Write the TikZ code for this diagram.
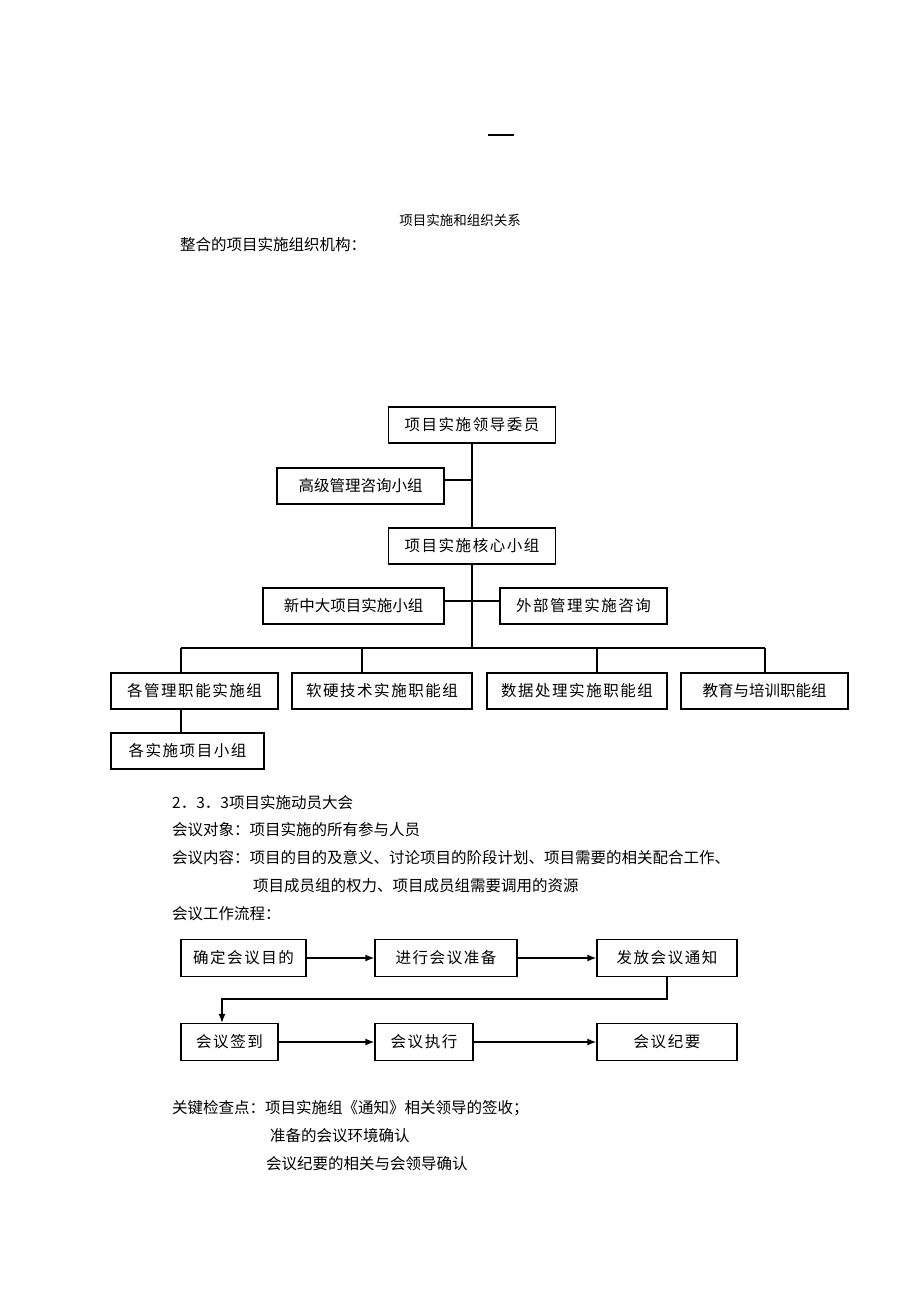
\documentclass[tikz,border=0pt]{standalone}
\usepackage{fontspec}
\newfontfamily\cjk{Noto Sans CJK SC}
\newfontfamily\cjkwide[LetterSpace=10]{Noto Sans CJK SC}
\usetikzlibrary{arrows.meta}
\tikzstyle{line} = [draw, line width=1.4pt, -{Latex[length=9pt,width=7pt]}]
\tikzstyle{link} = [draw, line width=1.4pt]
\tikzstyle{org_box} = [rectangle, draw, line width=1.3pt, minimum height=36pt, inner sep=0pt, text centered, font=\cjk\fontsize{15.5}{16}\selectfont]
\tikzstyle{org_wide} = [org_box, font=\cjkwide\fontsize{15.5}{16}\selectfont]
\tikzstyle{flow_box} = [org_box, minimum height=37pt, font=\cjkwide\fontsize{15.5}{16}\selectfont]
\tikzstyle{txt} = [anchor=west, inner sep=0pt, font=\cjk\fontsize{15.5}{16}\selectfont]
\begin{document}
\begin{tikzpicture}[x=1pt, y=-1pt]
		\fill[white] (0,0) rectangle (920,1302);
		\useasboundingbox (0,0) rectangle (920,1302);
		\draw[line width=1.5pt] (488,135) -- (514,135);
		
		\node[inner sep=0pt, font=\cjk\fontsize{13.5}{14}\selectfont] (org_title) at (460,220) {项目实施和组织关系};
		\node[txt] (org_intro) at (180,245) {整合的项目实施组织机构：};
		
		% organisation chart
		\node[org_wide, minimum width=167pt] (lead_cmt) at (472,425) {项目实施领导委员};
		\node[org_box, minimum width=167pt] (adv_grp) at (360.5,486) {高级管理咨询小组};
		\node[org_wide, minimum width=167pt] (core_grp) at (472,546) {项目实施核心小组};
		\node[org_box, minimum width=181pt] (new_grp) at (353.5,606) {新中大项目实施小组};
		\node[org_wide, minimum width=167pt] (ext_grp) at (583.5,606) {外部管理实施咨询};
		
		\path [link] (lead_cmt.south) to (core_grp.north);
		\path [link] ([yshift=6pt]adv_grp.east) to ([yshift=6pt]adv_grp.east -| lead_cmt.south);
		\path [link] ([yshift=5pt]new_grp.east) to ([yshift=5pt]ext_grp.west);
		
		\coordinate (bar_l) at (181,648);
		\coordinate (drop_2) at (362,648);
		\coordinate (drop_3) at (597,648);
		\coordinate (bar_r) at (765,648);
		\path [link] (core_grp.south) to (core_grp.south |- bar_l);
		\path [link] (bar_l) to (bar_r);
		
		\node[org_wide, minimum width=167pt] (mgmt_grp) at (194.5,691) {各管理职能实施组};
		\node[org_wide, minimum width=180pt] (tech_grp) at (382,691) {软硬技术实施职能组};
		\node[org_wide, minimum width=180pt] (data_grp) at (577,691) {数据处理实施职能组};
		\node[org_box, minimum width=167pt] (edu_grp) at (764.5,691) {教育与培训职能组};
		\node[org_wide, minimum width=153pt] (sub_grp) at (187.5,751) {各实施项目小组};
		
		\path [link] (bar_l) to (bar_l |- mgmt_grp.north);
		\path [link] (drop_2) to (drop_2 |- tech_grp.north);
		\path [link] (drop_3) to (drop_3 |- data_grp.north);
		\path [link] (bar_r) to (bar_r |- edu_grp.north);
		\path [link] (mgmt_grp.south -| bar_l) to (bar_l |- sub_grp.north);
		
		% meeting text
		\node[txt] (sec_head) at (172,803) {2．3．3项目实施动员大会};
		\node[txt] (mt_who) at (172,830) {会议对象：项目实施的所有参与人员};
		\node[txt] (mt_what) at (172,858) {会议内容：项目的目的及意义、讨论项目的阶段计划、项目需要的相关配合工作、};
		\node[txt] (mt_what2) at (253,886) {项目成员组的权力、项目成员组需要调用的资源};
		\node[txt] (mt_flow) at (172,914) {会议工作流程：};
		
		% meeting flow
		\node[flow_box, minimum width=125pt] (f_goal) at (243.5,958) {确定会议目的};
		\node[flow_box, minimum width=142pt] (f_prep) at (446,958) {进行会议准备};
		\node[flow_box, minimum width=140pt] (f_notice) at (667,958) {发放会议通知};
		\node[flow_box, minimum width=97pt] (f_sign) at (229.5,1042) {会议签到};
		\node[flow_box, minimum width=98pt] (f_exec) at (424,1042) {会议执行};
		\node[flow_box, minimum width=140pt] (f_minutes) at (667,1042) {会议纪要};
		
		\path [line] (f_goal) to (f_prep);
		\path [line] (f_prep) to (f_notice);
		\coordinate (turn) at (222,999);
		\path [line] (f_notice.south) |- (turn) to (turn |- f_sign.north);
		\path [line] (f_sign) to (f_exec);
		\path [line] (f_exec) to (f_minutes);
		
		\node[txt] (chk_1) at (172,1108) {关键检查点：项目实施组《通知》相关领导的签收；};
		\node[txt] (chk_2) at (270,1136) {准备的会议环境确认};
		\node[txt] (chk_3) at (266,1164) {会议纪要的相关与会领导确认};
	\end{tikzpicture}
\end{document}
